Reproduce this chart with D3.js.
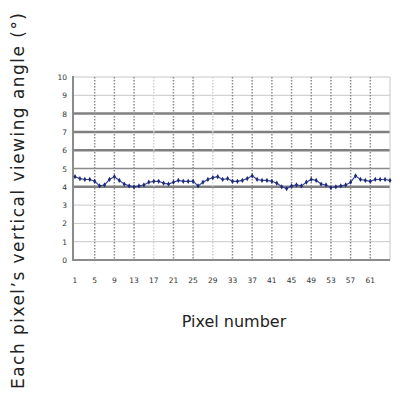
<!DOCTYPE html>
<html><head><meta charset="utf-8">
<script src="https://cdn.jsdelivr.net/npm/d3@7"></script>
<style>body{margin:0;background:#fff}svg{display:block}</style>
</head><body>
<svg id="c" width="400" height="399"></svg>
<script>
const pixels = d3.range(1, 66);
const angles = [4.55,4.45,4.4,4.4,4.3,4.05,4.1,4.4,4.55,4.35,
  4.15,4.05,4.0,4.05,4.1,4.25,4.3,4.3,4.2,4.15,
  4.25,4.35,4.3,4.3,4.3,4.05,4.25,4.4,4.5,4.55,
  4.4,4.45,4.3,4.3,4.35,4.45,4.6,4.4,4.35,4.35,
  4.3,4.2,4.0,3.9,4.05,4.1,4.05,4.25,4.4,4.35,
  4.15,4.1,3.95,4.0,4.05,4.1,4.25,4.6,4.4,4.35,
  4.3,4.4,4.4,4.4,4.35];
const xTicks = [1,5,9,13,17,21,25,29,33,37,41,45,49,53,57,61];
const yTicks = [0,1,2,3,4,5,6,7,8,9,10];
const heavyY = [4,6,7,8];
const mediumY = [5];
const lightX = [17,29];
const xTitle = "Pixel number";
const yTitle = "Each pixel\u2019s vertical viewing angle (\u00b0)";

const svg = d3.select("#c");
const x = d3.scaleLinear().domain([1,65]).range([75,390]);
const y = d3.scaleLinear().domain([0,10]).range([260,77]);
const left = 73;

// horizontal grid
yTicks.filter(v => v > 0).forEach(v => {
  const heavy = heavyY.includes(v), med = mediumY.includes(v);
  svg.append("line").attr("x1", left).attr("x2", x(65)).attr("y1", y(v)).attr("y2", y(v))
    .attr("stroke", heavy ? "#808080" : med ? "#8a8a8a" : "#c8c8c8")
    .attr("stroke-width", heavy ? 2.5 : med ? 1.5 : 1);
});
// vertical dashed grid
xTicks.filter(v => v > 1).forEach(v => {
  const light = lightX.includes(v);
  svg.append("line").attr("x1", x(v)).attr("x2", x(v)).attr("y1", y(10)).attr("y2", y(0))
    .attr("stroke", light ? "#d0d0d0" : "#8c8c8c").attr("stroke-width", 1.5)
    .attr("stroke-dasharray", "1.5,1.5");
});
// right border
svg.append("line").attr("x1", x(65)).attr("x2", x(65)).attr("y1", y(10)).attr("y2", y(0))
  .attr("stroke", "#c8c8c8").attr("stroke-width", 1);
// axes lines
svg.append("line").attr("x1", left).attr("x2", left).attr("y1", y(10)-1).attr("y2", y(0)+1)
  .attr("stroke", "#8c8c8c").attr("stroke-width", 2);
svg.append("line").attr("x1", left).attr("x2", x(65)).attr("y1", y(0)).attr("y2", y(0))
  .attr("stroke", "#8c8c8c").attr("stroke-width", 2);

// y tick labels
svg.append("g").selectAll("text").data(yTicks).join("text")
  .attr("x", 67).attr("y", d => y(d) + 3).attr("text-anchor", "end")
  .attr("font-family", "DejaVu Sans").attr("font-size", 7.5).attr("fill", "#333")
  .text(d => d);
// x tick labels
svg.append("g").selectAll("text").data(xTicks).join("text")
  .attr("x", d => x(d)).attr("y", 283).attr("text-anchor", "middle")
  .attr("font-family", "DejaVu Sans").attr("font-size", 7.5).attr("fill", "#333")
  .text(d => d);

// data line
const data = pixels.map((p,i) => ({p, v: angles[i]}));
svg.append("path").datum(data)
  .attr("d", d3.line().x(d => x(d.p)).y(d => y(d.v)))
  .attr("fill", "none").attr("stroke", "#3a4a9a").attr("stroke-width", 1.2);
svg.append("g").selectAll("path").data(data).join("path")
  .attr("d", d3.symbol().type(d3.symbolDiamond).size(8))
  .attr("transform", d => `translate(${x(d.p)},${y(d.v)})`)
  .attr("fill", "#1e2a78");

// titles
svg.append("text").attr("x", 234).attr("y", 327).attr("text-anchor", "middle")
  .attr("font-family", "DejaVu Sans").attr("font-size", 16).attr("fill", "#222")
  .text(xTitle);
svg.append("text").attr("transform", "translate(24,201) rotate(-90)").attr("text-anchor", "middle")
  .attr("font-family", "DejaVu Sans").attr("font-size", 17).attr("fill", "#222")
  .attr("textLength", 376).attr("lengthAdjust", "spacing")
  .text(yTitle);
</script>
</body></html>
